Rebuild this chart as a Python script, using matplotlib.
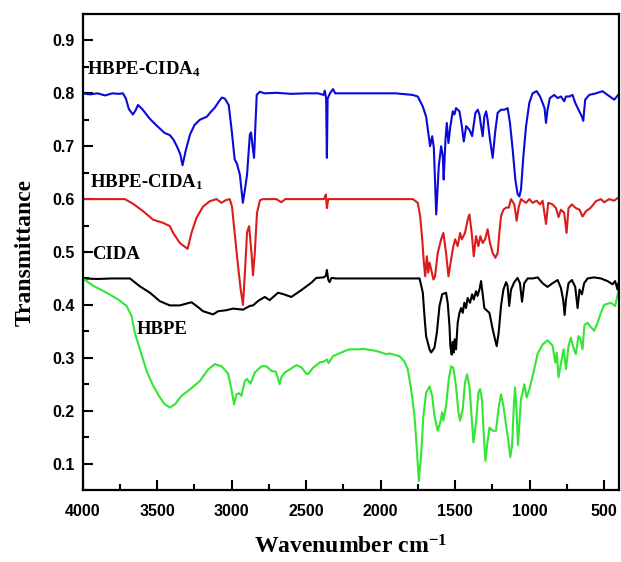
import matplotlib
matplotlib.use("Agg")
import matplotlib.pyplot as plt
from matplotlib.ticker import MultipleLocator

# ---------------- data ----------------
cida4_wn = [4000, 3950, 3900, 3850, 3800, 3760, 3730, 3710, 3690, 3663, 3645, 3629, 3600, 3550,
            3500, 3450, 3415, 3390, 3368, 3345, 3330, 3310, 3280, 3250, 3214, 3166, 3140, 3113,
            3085, 3066, 3046, 3020, 3000, 2980, 2965, 2945, 2925, 2910, 2897, 2878, 2870, 2860,
            2850, 2842, 2832, 2812, 2780, 2700, 2600, 2500, 2420, 2383, 2375, 2366, 2361, 2356,
            2340, 2320, 2305, 2200, 2100, 2000, 1900, 1820, 1786, 1751, 1717, 1695, 1677, 1668,
            1654, 1643, 1627, 1610, 1594, 1583, 1577, 1565, 1556, 1545, 1532, 1516, 1505, 1494,
            1471, 1455, 1442, 1426, 1404, 1386, 1364, 1348, 1337, 1326, 1315, 1304, 1292, 1282,
            1266, 1248, 1232, 1215, 1192, 1170, 1148, 1132, 1114, 1096, 1081, 1069, 1058, 1042,
            1024, 1002, 980, 953, 930, 913, 900, 890, 880, 864, 835, 812, 790, 768, 756, 734,
            712, 694, 672, 649, 640, 627, 600, 555, 511, 477, 432, 405]
cida4_t = [0.800, 0.798, 0.800, 0.796, 0.800, 0.799, 0.800, 0.790, 0.770, 0.760, 0.768, 0.778,
           0.770, 0.752, 0.738, 0.725, 0.721, 0.712, 0.700, 0.685, 0.664, 0.690, 0.722, 0.740,
           0.750, 0.756, 0.765, 0.773, 0.785, 0.792, 0.790, 0.778, 0.730, 0.675, 0.667, 0.646,
           0.593, 0.620, 0.646, 0.722, 0.726, 0.700, 0.678, 0.730, 0.797, 0.803, 0.800, 0.801,
           0.799, 0.800, 0.800, 0.797, 0.805, 0.790, 0.678, 0.790, 0.800, 0.808, 0.800, 0.800,
           0.800, 0.800, 0.800, 0.798, 0.797, 0.794, 0.775, 0.756, 0.719, 0.700, 0.719, 0.697,
           0.571, 0.662, 0.700, 0.681, 0.637, 0.712, 0.744, 0.706, 0.738, 0.766, 0.760, 0.772,
           0.766, 0.738, 0.709, 0.738, 0.731, 0.719, 0.763, 0.769, 0.760, 0.738, 0.719, 0.756,
           0.766, 0.750, 0.712, 0.678, 0.725, 0.763, 0.769, 0.769, 0.772, 0.744, 0.694, 0.637,
           0.610, 0.605, 0.618, 0.681, 0.738, 0.782, 0.800, 0.804, 0.794, 0.782, 0.772, 0.744,
           0.769, 0.791, 0.797, 0.791, 0.794, 0.785, 0.794, 0.794, 0.797, 0.782, 0.769, 0.756,
           0.748, 0.788, 0.797, 0.800, 0.804, 0.797, 0.788, 0.797]

cida1_wn = [4000, 3900, 3800, 3717, 3661, 3594, 3527, 3460, 3415, 3393, 3348, 3296, 3270, 3236,
            3192, 3147, 3102, 3068, 3040, 3013, 2998, 2980, 2957, 2940, 2924, 2910, 2897, 2883,
            2867, 2857, 2845, 2830, 2810, 2790, 2700, 2667, 2640, 2500, 2380, 2368, 2361, 2352,
            2300, 2100, 1900, 1784, 1751, 1735, 1721, 1710, 1701, 1690, 1681, 1672, 1661, 1646,
            1635, 1617, 1594, 1579, 1561, 1545, 1527, 1512, 1500, 1483, 1467, 1455, 1434, 1416,
            1404, 1389, 1375, 1360, 1344, 1331, 1315, 1299, 1282, 1266, 1248, 1230, 1215, 1203,
            1192, 1176, 1158, 1140, 1125, 1103, 1087, 1074, 1058, 1040, 1024, 1002, 980, 953,
            930, 913, 890, 875, 846, 823, 806, 790, 768, 752, 739, 716, 690, 665, 645, 622, 589,
            555, 522, 500, 466, 432, 405]
cida1_t = [0.600, 0.600, 0.600, 0.600, 0.591, 0.577, 0.561, 0.555, 0.549, 0.536, 0.517, 0.506,
           0.536, 0.565, 0.586, 0.596, 0.600, 0.593, 0.598, 0.600, 0.586, 0.536, 0.473, 0.430,
           0.400, 0.467, 0.537, 0.549, 0.498, 0.456, 0.498, 0.574, 0.598, 0.600, 0.600, 0.594,
           0.600, 0.600, 0.600, 0.609, 0.583, 0.600, 0.600, 0.600, 0.600, 0.600, 0.593, 0.568,
           0.524, 0.480, 0.454, 0.492, 0.461, 0.480, 0.467, 0.448, 0.454, 0.498, 0.524, 0.536,
           0.498, 0.454, 0.486, 0.511, 0.524, 0.511, 0.536, 0.524, 0.536, 0.561, 0.571, 0.536,
           0.492, 0.530, 0.511, 0.530, 0.517, 0.524, 0.543, 0.517, 0.498, 0.489, 0.498, 0.536,
           0.568, 0.580, 0.584, 0.584, 0.600, 0.590, 0.559, 0.584, 0.600, 0.596, 0.593, 0.600,
           0.593, 0.597, 0.590, 0.597, 0.553, 0.593, 0.590, 0.583, 0.566, 0.580, 0.574, 0.536,
           0.583, 0.590, 0.583, 0.580, 0.567, 0.577, 0.584, 0.596, 0.600, 0.594, 0.600, 0.597,
           0.603]

cida_wn = [4000, 3900, 3800, 3683, 3616, 3549, 3482, 3415, 3348, 3270, 3236, 3192, 3125, 3091,
           3035, 2991, 2924, 2878, 2857, 2820, 2790, 2778, 2745, 2689, 2650, 2600, 2532, 2465,
           2432, 2383, 2368, 2361, 2352, 2343, 2330, 2300, 2100, 1900, 1739, 1717, 1706, 1695,
           1672, 1661, 1639, 1623, 1605, 1587, 1561, 1550, 1538, 1532, 1523, 1516, 1510, 1503,
           1494, 1483, 1471, 1460, 1449, 1438, 1427, 1416, 1400, 1386, 1375, 1360, 1350, 1337,
           1326, 1315, 1304, 1290, 1270, 1248, 1230, 1221, 1208, 1192, 1176, 1158, 1148, 1137,
           1125, 1103, 1081, 1065, 1051, 1036, 1013, 980, 946, 913, 880, 846, 812, 790, 775,
           765, 756, 739, 716, 694, 678, 665, 649, 634, 611, 567, 522, 477, 443, 426, 410, 405]
cida_t = [0.450, 0.449, 0.450, 0.450, 0.435, 0.423, 0.407, 0.399, 0.399, 0.405, 0.398, 0.388,
          0.382, 0.388, 0.390, 0.393, 0.391, 0.398, 0.399, 0.408, 0.413, 0.415, 0.409, 0.423,
          0.420, 0.415, 0.428, 0.442, 0.451, 0.452, 0.455, 0.466, 0.448, 0.443, 0.451, 0.450,
          0.450, 0.450, 0.450, 0.423, 0.379, 0.341, 0.316, 0.310, 0.319, 0.347, 0.398, 0.420,
          0.423, 0.404, 0.360, 0.322, 0.306, 0.330, 0.310, 0.335, 0.316, 0.366, 0.385, 0.394,
          0.385, 0.404, 0.394, 0.413, 0.404, 0.420, 0.410, 0.426, 0.417, 0.429, 0.445, 0.420,
          0.394, 0.390, 0.385, 0.354, 0.332, 0.322, 0.347, 0.398, 0.429, 0.443, 0.436, 0.398,
          0.429, 0.443, 0.451, 0.441, 0.406, 0.441, 0.450, 0.450, 0.452, 0.441, 0.434, 0.441,
          0.447, 0.432, 0.410, 0.381, 0.410, 0.441, 0.447, 0.434, 0.394, 0.429, 0.420, 0.441,
          0.450, 0.452, 0.450, 0.445, 0.439, 0.445, 0.429, 0.440]

hbpe_wn = [4000, 3929, 3839, 3761, 3705, 3672, 3650, 3616, 3571, 3527, 3482, 3448, 3415, 3381,
           3337, 3281, 3214, 3158, 3113, 3068, 3024, 3001, 2984, 2968, 2950, 2935, 2912, 2897,
           2874, 2845, 2800, 2767, 2733, 2705, 2690, 2678, 2665, 2644, 2566, 2532, 2499, 2488,
           2454, 2410, 2398, 2380, 2361, 2350, 2320, 2264, 2231, 2208, 2142, 2119, 2030, 1963,
           1940, 1885, 1873, 1840, 1818, 1795, 1773, 1757, 1744, 1728, 1713, 1695, 1672, 1654,
           1639, 1617, 1600, 1587, 1579, 1561, 1543, 1527, 1512, 1494, 1478, 1467, 1449, 1434,
           1420, 1404, 1393, 1377, 1360, 1344, 1333, 1320, 1309, 1297, 1286, 1270, 1248, 1226,
           1208, 1192, 1176, 1158, 1141, 1130, 1118, 1107, 1098, 1088, 1078, 1068, 1058, 1047,
           1036, 1020, 1002, 980, 946, 913, 880, 846, 828, 818, 806, 783, 772, 756, 739, 723,
           707, 690, 672, 658, 645, 632, 611, 589, 567, 545, 522, 500, 455, 426, 405]
hbpe_t = [0.450, 0.436, 0.423, 0.410, 0.398, 0.379, 0.347, 0.316, 0.275, 0.247, 0.225, 0.212,
          0.206, 0.212, 0.228, 0.240, 0.256, 0.278, 0.288, 0.284, 0.270, 0.240, 0.212, 0.231,
          0.233, 0.228, 0.256, 0.260, 0.251, 0.272, 0.284, 0.284, 0.275, 0.274, 0.262, 0.250,
          0.264, 0.272, 0.286, 0.282, 0.270, 0.269, 0.281, 0.291, 0.292, 0.293, 0.297, 0.290,
          0.303, 0.310, 0.314, 0.316, 0.316, 0.317, 0.313, 0.307, 0.308, 0.304, 0.303, 0.293,
          0.278, 0.240, 0.190, 0.127, 0.067, 0.117, 0.190, 0.234, 0.246, 0.228, 0.190, 0.162,
          0.178, 0.197, 0.181, 0.209, 0.259, 0.284, 0.281, 0.246, 0.197, 0.181, 0.203, 0.253,
          0.269, 0.246, 0.203, 0.140, 0.178, 0.234, 0.241, 0.222, 0.159, 0.105, 0.134, 0.168,
          0.162, 0.162, 0.206, 0.231, 0.209, 0.172, 0.140, 0.112, 0.134, 0.203, 0.244, 0.203,
          0.135, 0.178, 0.222, 0.234, 0.250, 0.225, 0.240, 0.265, 0.308, 0.325, 0.333, 0.323,
          0.291, 0.310, 0.263, 0.300, 0.316, 0.279, 0.322, 0.338, 0.320, 0.307, 0.341, 0.335,
          0.316, 0.362, 0.366, 0.358, 0.351, 0.365, 0.385, 0.400, 0.404, 0.398, 0.425]

series_names = ["HBPE-CIDA$_4$", "HBPE-CIDA$_1$", "CIDA", "HBPE"]
x_ticks = [4000, 3500, 3000, 2500, 2000, 1500, 1000, 500]
y_ticks = [0.1, 0.2, 0.3, 0.4, 0.5, 0.6, 0.7, 0.8, 0.9]

# ---------------- styling ----------------
plt.rcParams["mathtext.fontset"] = "custom"
plt.rcParams["mathtext.rm"] = "Liberation Serif:bold"
plt.rcParams["mathtext.bf"] = "Liberation Serif:bold"
plt.rcParams["mathtext.it"] = "Liberation Serif:bold"
plt.rcParams["mathtext.default"] = "rm"

fig = plt.figure(figsize=(6.21, 5.62), dpi=100)
ax = fig.add_axes([0.1332, 0.1281, 0.8636, 0.847])

ax.plot(cida4_wn, cida4_t, color="#0a0ad8", lw=1.5)
ax.plot(cida1_wn, cida1_t, color="#dc1c1c", lw=1.5)
ax.plot(cida_wn, cida_t, color="#000000", lw=1.5)
ax.plot(hbpe_wn, hbpe_t, color="#33e633", lw=1.5)

ax.set_xlim(4000, 400)
ax.set_ylim(0.05, 0.95)
ax.set_xticks(x_ticks)
ax.set_yticks(y_ticks)
ax.xaxis.set_minor_locator(MultipleLocator(250))
ax.yaxis.set_minor_locator(MultipleLocator(0.05))
ax.tick_params(which="both", direction="in", top=False, right=False, width=1.5)
ax.tick_params(which="major", length=7)
ax.tick_params(which="minor", length=4.5)
ax.tick_params(axis="x", pad=10)
ax.tick_params(axis="y", pad=6)
for s in ax.spines.values():
    s.set_linewidth(1.6)

for lab in ax.get_xticklabels() + ax.get_yticklabels():
    lab.set_fontfamily("Liberation Sans")
    lab.set_fontweight("bold")
    lab.set_fontsize(11.5)

ax.set_xlabel("Wavenumber cm$^{-1}$", fontfamily="Liberation Serif", fontweight="bold",
              fontsize=17, labelpad=12)
ax.set_ylabel("Transmittance", fontfamily="Liberation Serif", fontweight="bold",
              fontsize=17, labelpad=12)

txt = dict(fontfamily="Liberation Serif", fontweight="bold", fontsize=13.5, va="center", ha="left")
ax.text(3970, 0.845, series_names[0], **txt)
ax.text(3950, 0.633, series_names[1], **txt)
ax.text(3940, 0.495, series_names[2], **txt)
ax.text(3636, 0.353, series_names[3], **txt)

fig.savefig("out.png", dpi=100)
